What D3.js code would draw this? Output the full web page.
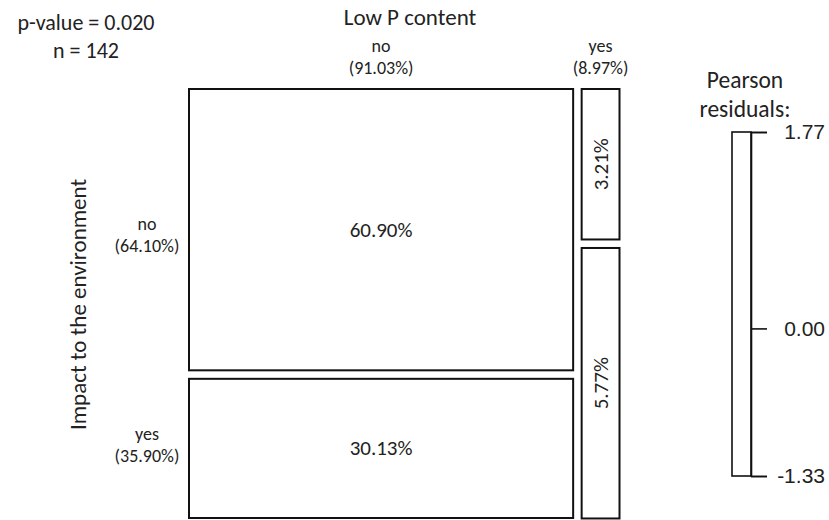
<!DOCTYPE html>
<html>
<head>
<meta charset="utf-8">
<script src="https://cdn.jsdelivr.net/npm/d3@7"></script>
<style>
  html, body { margin: 0; padding: 0; background: #fff; }
  svg { display: block; }
  .lbl { font-family: Carlito, Lato, "Open Sans", sans-serif; fill: #222; }
  .num { font-family: "Liberation Sans", Arial, sans-serif; fill: #222; }
</style>
</head>
<body>
<svg id="chart" width="829" height="520"></svg>
<script>
// Mosaic of "Low P content" (columns) by "Impact to the environment" (rows)
const colVar = "Low P content";
const rowVar = "Impact to the environment";
const colCategories = ["no", "yes"];
const colPct = [91.03, 8.97];
const rowCategories = ["no", "yes"];
const rowPct = [64.10, 35.90];
// cellPct[col][row] : share of all observations
const cellPct = [
  [60.90, 30.13],
  [3.21, 5.77]
];
const pValue = "0.020";
const nObs = 142;
const residualTicks = [1.77, 0.00, -1.33];

const svg = d3.select("#chart");

// plot frame
const plotL = 189, plotR = 619.5, plotT = 89, plotB = 518;
const gap = 8.5;
const hdrSize = 18, hdrLead = 22;

const xScale = d3.scaleLinear()
  .domain([0, d3.sum(colPct)])
  .range([0, (plotR - plotL) - gap * (colCategories.length - 1)]);

const colStart = d3.cumsum([0, ...colPct]);
const cells = [];
colCategories.forEach((c, j) => {
  const x0 = plotL + xScale(colStart[j]) + j * gap;
  const w = xScale(colPct[j]);
  const yScale = d3.scaleLinear()
    .domain([0, colPct[j]])
    .range([0, (plotB - plotT) - gap * (rowCategories.length - 1)]);
  const cellStart = d3.cumsum([0, ...cellPct[j]]);
  rowCategories.forEach((r, i) => {
    cells.push({
      col: j, row: i, value: cellPct[j][i],
      x: x0, w: w,
      y: plotT + yScale(cellStart[i]) + i * gap,
      h: yScale(cellPct[j][i])
    });
  });
});

svg.selectAll("rect.cell")
  .data(cells)
  .join("rect")
  .attr("class", "cell")
  .attr("x", d => d.x)
  .attr("y", d => d.y)
  .attr("width", d => d.w)
  .attr("height", d => d.h)
  .attr("fill", "#fff")
  .attr("stroke", "#111")
  .attr("stroke-width", 2);

// cell percentage labels (narrow cells get rotated text)
svg.selectAll("text.cellLbl")
  .data(cells)
  .join("text")
  .attr("class", "lbl cellLbl")
  .attr("font-size", 21)
  .attr("text-anchor", "middle")
  .attr("dominant-baseline", "central")
  .attr("transform", d => {
    const cx = d.x + d.w / 2, cy = d.y + d.h / 2;
    return d.w < 60 ? `translate(${cx},${cy}) rotate(-90)` : `translate(${cx},${cy})`;
  })
  .text(d => d.value.toFixed(2) + "%");

// column headers
const colHdr = svg.selectAll("g.colHdr")
  .data(colCategories)
  .join("g")
  .attr("class", "colHdr")
  .attr("transform", (c, j) => {
    const x0 = plotL + xScale(colStart[j]) + j * gap;
    return `translate(${x0 + xScale(colPct[j]) / 2},0)`;
  });
colHdr.append("text").attr("class", "lbl").attr("font-size", hdrSize)
  .attr("text-anchor", "middle").attr("y", 52).text(c => c);
colHdr.append("text").attr("class", "lbl").attr("font-size", hdrSize)
  .attr("text-anchor", "middle").attr("y", 52 + hdrLead)
  .text((c, j) => `(${colPct[j].toFixed(2)}%)`);

svg.append("text").attr("class", "lbl").attr("font-size", 23)
  .attr("text-anchor", "middle").attr("x", 410).attr("y", 25).text(colVar);

// row headers, placed on the marginal row bands
const rowScale = d3.scaleLinear()
  .domain([0, d3.sum(rowPct)])
  .range([0, (plotB - plotT) - gap * (rowCategories.length - 1)]);
const rowStart = d3.cumsum([0, ...rowPct]);
const rowHdr = svg.selectAll("g.rowHdr")
  .data(rowCategories)
  .join("g")
  .attr("class", "rowHdr")
  .attr("transform", (r, i) => {
    const cy = plotT + rowScale(rowStart[i]) + i * gap + rowScale(rowPct[i]) / 2;
    return `translate(147,${cy + (i === 0 ? 6 : -3)})`;
  });
rowHdr.append("text").attr("class", "lbl").attr("font-size", hdrSize)
  .attr("text-anchor", "middle").attr("y", 0).text(r => r);
rowHdr.append("text").attr("class", "lbl").attr("font-size", hdrSize)
  .attr("text-anchor", "middle").attr("y", hdrLead)
  .text((r, i) => `(${rowPct[i].toFixed(2)}%)`);

svg.append("text").attr("class", "lbl").attr("font-size", 23)
  .attr("text-anchor", "middle")
  .attr("transform", `translate(86,${(plotT + plotB) / 2 + 1}) rotate(-90)`)
  .text(rowVar);

// test summary
svg.append("text").attr("class", "lbl").attr("font-size", 22)
  .attr("text-anchor", "middle").attr("x", 86).attr("y", 30)
  .text(`p-value = ${pValue}`);
svg.append("text").attr("class", "lbl").attr("font-size", 22)
  .attr("text-anchor", "middle").attr("x", 86).attr("y", 58)
  .text(`n = ${nObs}`);

// residual legend
const legX = 732, legW = 19, legT = 132, legB = 476;
const resScale = d3.scaleLinear()
  .domain([d3.max(residualTicks), d3.min(residualTicks)])
  .range([legT, legB]);

svg.append("text").attr("class", "lbl").attr("font-size", 23.5)
  .attr("text-anchor", "middle").attr("x", 745).attr("y", 88).text("Pearson");
svg.append("text").attr("class", "lbl").attr("font-size", 23.5)
  .attr("text-anchor", "middle").attr("x", 745).attr("y", 117).text("residuals:");

svg.append("rect")
  .attr("x", legX).attr("y", legT)
  .attr("width", legW).attr("height", legB - legT)
  .attr("fill", "#fff").attr("stroke", "#111").attr("stroke-width", 1.6);

const legAxis = d3.axisRight(resScale)
  .tickValues(residualTicks)
  .tickFormat(d => d.toFixed(2))
  .tickSize(16)
  .tickPadding(8);

const gAxis = svg.append("g")
  .attr("transform", `translate(${legX + legW},0)`)
  .call(legAxis);
gAxis.select(".domain").attr("stroke", "#111").attr("stroke-width", 1.6);
gAxis.selectAll(".tick line").attr("stroke", "#111").attr("stroke-width", 1.6);
gAxis.selectAll(".tick text")
  .attr("class", "num")
  .attr("font-size", 21)
  .attr("fill", "#222")
  .attr("text-anchor", "end")
  .attr("x", 825 - (legX + legW))
  .style("font-family", "'Liberation Sans', Arial, sans-serif");
</script>
</body>
</html>
